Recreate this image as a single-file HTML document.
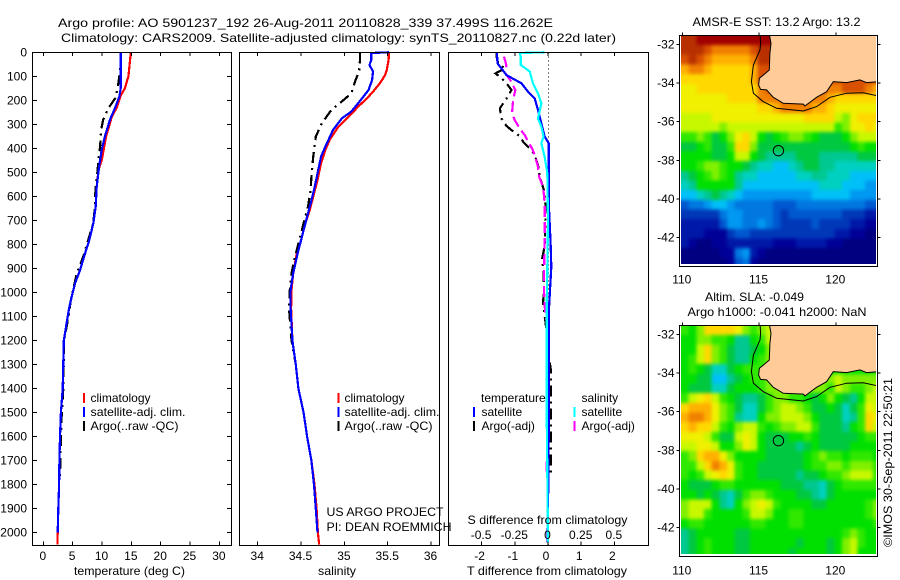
<!DOCTYPE html>
<html>
<head>
<meta charset="utf-8">
<title>Argo profile</title>
<style>
html,body{margin:0;padding:0;background:#fff;}
svg{display:block;}
text{font-family:"Liberation Sans",sans-serif;font-size:12px;fill:#000;}
</style>
</head>
<body>
<svg id="fig" xmlns="http://www.w3.org/2000/svg" width="900" height="580" viewBox="0 0 900 580">
<defs>
<clipPath id="clipSst"><rect x="681" y="36" width="195" height="228"/></clipPath>
<clipPath id="clipSla"><rect x="681" y="326" width="195" height="228"/></clipPath>
<filter id="mapSmooth" filterUnits="userSpaceOnUse" x="650" y="0" width="250" height="580" color-interpolation-filters="sRGB"><feGaussianBlur stdDeviation="1.8"/></filter>
</defs>
<text x="58" y="27" textLength="495" lengthAdjust="spacingAndGlyphs">Argo profile: AO 5901237_192 26-Aug-2011 20110828_339 37.499S 116.262E</text>
<text x="61" y="42" textLength="555" lengthAdjust="spacingAndGlyphs">Climatology: CARS2009. Satellite-adjusted climatology: synTS_20110827.nc (0.22d later)</text>
<g id="marks"></g>
<text x="74" y="575" textLength="111" lengthAdjust="spacingAndGlyphs">temperature (deg C)</text>
<text x="318" y="575" textLength="38" lengthAdjust="spacingAndGlyphs">salinity</text>
<text x="467" y="575" textLength="160" lengthAdjust="spacingAndGlyphs">T difference from climatology</text>
<text x="467.5" y="524" textLength="160" lengthAdjust="spacingAndGlyphs">S difference from climatology</text>
<text x="90.5" y="402">climatology</text>
<text x="90.5" y="416" textLength="95" lengthAdjust="spacingAndGlyphs">satellite-adj. clim.</text>
<text x="90.5" y="430" textLength="88" lengthAdjust="spacingAndGlyphs">Argo(..raw -QC)</text>
<text x="344.5" y="402">climatology</text>
<text x="344.5" y="416" textLength="95" lengthAdjust="spacingAndGlyphs">satellite-adj. clim.</text>
<text x="344.5" y="430" textLength="88" lengthAdjust="spacingAndGlyphs">Argo(..raw -QC)</text>
<text x="326.5" y="516" textLength="117" lengthAdjust="spacingAndGlyphs">US ARGO PROJECT</text>
<text x="326.5" y="531" textLength="125" lengthAdjust="spacingAndGlyphs">PI: DEAN ROEMMICH</text>
<text x="481" y="402">temperature</text>
<text x="481.5" y="416">satellite</text>
<text x="481.5" y="430">Argo(-adj)</text>
<text x="581.5" y="402">salinity</text>
<text x="581.5" y="416">satellite</text>
<text x="581.5" y="430">Argo(-adj)</text>
<text x="692.5" y="26" textLength="168" lengthAdjust="spacingAndGlyphs">AMSR-E SST: 13.2  Argo: 13.2</text>
<text x="705" y="301" textLength="99" lengthAdjust="spacingAndGlyphs">Altim. SLA: -0.049</text>
<text x="687.5" y="316" textLength="179" lengthAdjust="spacingAndGlyphs">Argo h1000: -0.041  h2000: NaN</text>
<text transform="translate(892 547) rotate(-90)" x="0" y="0" textLength="169" lengthAdjust="spacingAndGlyphs">©IMOS 30-Sep-2011 22:50:21</text>
</svg>
<script>
// ---- axis ticks ----
const depthTicks=[0,100,200,300,400,500,600,700,800,900,1000,1100,1200,1300,1400,1500,1600,1700,1800,1900,2000];
const tempTicks=[0,5,10,15,20,25,30];
const salTicks=[34,34.5,35,35.5,36];
const salTickLabels=["34","34.5","35","35.5","36"];
const dTempTicks=[-2,-1,0,1,2];
const dTempLabels=["-2","-1","0","1","2"];
const dSalTicks=[-0.5,-0.25,0,0.25,0.5];
const dSalLabels=["-0.5","-0.25","0","0.25","0.5"];
const lonTicks=[110,115,120];
const latTicks=[-32,-34,-36,-38,-40,-42];

// ---- temperature profiles ----
const tClimDepth=[0,60,100,150,180,230,270,350,450,490,560,643,712,782,838,907,962,1018,1067,1200,1400,1500,1600,1700,1800,1900,2000,2050];
const tClimVal=[14.9,14.66,14.5,13.9,13.18,12.5,11.65,10.7,9.95,9.4,9.09,8.92,8.52,7.84,7.1,6.25,5.4,4.83,4.38,3.5,3.3,3.0,2.85,2.75,2.7,2.55,2.45,2.4];
const tSatDepth=[0,150,185,233,280,350,407,476,560,643,712,782,838,907,962,1018,1067,1200,1400,1500,1600,1700,1800,1900,2000];
const tSatVal=[13.18,13.18,12.95,12.2,11.36,10.5,9.95,9.5,9.09,8.92,8.52,7.84,7.1,6.25,5.4,4.83,4.38,3.5,3.3,3.0,2.85,2.75,2.7,2.55,2.45];
const tArgoDepth=[0,60,100,150,190,233,280,323,393,450,504,560,643,712,851,920,1030,1100,1200,1400,1500,1600,1700,1770];
const tArgoVal=[13.18,13.15,12.95,12.65,12.3,11.07,10.2,9.84,9.67,9.38,9.2,8.9,8.8,8.5,6.8,5.7,4.7,4.3,3.55,3.4,3.15,3.0,2.9,2.85];

// ---- salinity profiles ----
const sClimDepth=[0,32,73,95,129,164,192,226,268,310,365,407,462,532,588,657,712,796,838,920,990,1067,1200,1300,1400,1500,1600,1700,1800,1900,2000,2050];
const sClimVal=[35.515,35.51,35.49,35.47,35.41,35.33,35.26,35.16,35.05,34.93,34.83,34.78,34.73,34.69,34.65,34.6,34.55,34.49,34.45,34.41,34.39,34.385,34.4,34.44,34.47,34.53,34.57,34.62,34.655,34.68,34.695,34.71];
const sSatDepth=[0,3,32,53,80,115,157,212,247,275,323,393,435,504,574,629,699,768,838,920,990,1067,1200,1300,1400,1500,1600,1700,1800,1900,2000];
const sSatVal=[35.515,35.31,35.31,35.29,35.33,35.32,35.28,35.16,35.08,34.97,34.87,34.78,34.73,34.69,34.65,34.61,34.56,34.51,34.46,34.41,34.38,34.38,34.4,34.44,34.47,34.53,34.57,34.62,34.65,34.67,34.69];
const sArgoDepth=[0,32,80,115,171,205,240,296,351,435,518,574,643,712,796,866,920,990,1060,1200,1300,1400,1500];
const sArgoVal=[35.18,35.18,35.17,35.13,35.08,34.97,34.85,34.74,34.67,34.64,34.62,34.61,34.58,34.53,34.47,34.42,34.39,34.37,34.36,34.39,34.44,34.47,34.53];

// ---- differences from climatology ----
const dtSatDepth=[0,46,95,129,164,192,240,296,351,379,435,600,650,740,807,893,990,1067,1200,1600,2040];
const dtSatVal=[-1.54,-1.52,-1.25,-0.8,-0.6,-0.4,-0.3,-0.2,-0.1,0.02,0.02,0.02,0.03,0.06,0.08,0.1,0.06,0.03,0.02,0.02,-0.01];
const dtArgoDepth=[0,18,46,67,88,108,129,157,192,233,275,307,324,349,372,407,428,469,518,574,643,807,863,904,990,1046,1130,1240,1318,1755];
const dtArgoVal=[-1.54,-1.55,-1.5,-1.3,-1.58,-1.4,-1.25,-1.1,-1.25,-1.45,-1.4,-1.25,-1.1,-0.85,-0.75,-0.5,-0.4,-0.3,-0.25,-0.12,-0.07,-0.1,-0.18,-0.14,-0.12,-0.15,-0.07,0,0.08,0.08];
const dsSatDepth=[0,3,18,53,80,129,171,212,275,310,351,379,435,504,700,1067,1500,2040];
const dsSatVal=[-0.025,-0.213,-0.205,-0.205,-0.138,-0.113,-0.075,-0.05,-0.075,-0.05,-0.033,-0.05,-0.025,-0.005,0,-0.01,-0.01,0];
const dsArgoDepth=[18,53,88,122,157,199,254,282,317,345,372,400,428,476,518,560,629,782,921,990,1060,1116,1240,1352,1450,1745];
const dsArgoVal=[-0.331,-0.314,-0.321,-0.276,-0.246,-0.263,-0.271,-0.251,-0.213,-0.175,-0.15,-0.12,-0.1,-0.075,-0.067,-0.037,-0.025,-0.025,-0.03,-0.03,-0.025,-0.012,0,0.008,0.008,-0.012];

// ---- maps: one character per 0.5 degree cell, index into mapPalette ----
const mapLevels="0123456789abcdefghijkl";
const mapPalette=["#000080","#000098","#0018a8","#0038b8","#0058d0","#0078e0","#0098f0","#00c0f8","#00d0c0","#00c890","#00c840","#00e000","#30e800","#80f000","#c8f800","#f0f000","#ffd800","#ffb000","#f08000","#d85000","#b83000","#a00000"];
const sstRows=[
"kklllllllllljjjjjjjjjjjjjj",
"kkkjiiiiijkkjjjjjjjjjjjjjj",
"jkjihhhhhikkjjjjjjjjjjjjjj",
"hiihggggghjjjjjjjjjjjjjjjj",
"ggggggggghjjjjjjjjjjjjjjjj",
"ffggggggggijjjjjjjjiijjjih",
"ffffffggggiiijjjiiihgggggg",
"ffffffffffgghiiiihhgffffff",
"eeeeffffffffffffggggedfggg",
"eeeeedeeeeeeeeeeeeeecdffgf",
"ccdcabdfgebabcddcbaaabdeee",
"aabcaacggdaaaaaaaaaaaabcbb",
"bbbbaabeeba9999aaa99999aaa",
"bbcddcbba9887789aa99888888",
"9abcdcb9887777788998887777",
"89bbbbb9777777777788877766",
"7789a987666666666777776666",
"45567765555544455555555544",
"33333566555543444444433322",
"22222466556543333433332211",
"22211134433333333333221100",
"21001122222211122221100000",
"00000115621000000000000000",
"00000014510000000000000000"
];
const slaRows=[
"cbdggggfdcdebbbbbbbbbbbbbb",
"bbddccb99bcebbbbbbbbbbbbbb",
"bbegdca99abdbbbbbbbbbbbbbb",
"bcegdca99bcdbbbbbbbbbbbbbb",
"bcba88abcccdbbbbbbbbbbbbbb",
"bbaa779abccdddddddddeddddd",
"baaa88abbbcddddddddcedccde",
"cefgecba99acddccbabdba9bee",
"ghhhfdca88acdeedcaaba8acfe",
"hiihfdc988bddeeedbaaa89cgf",
"ghggecbdeecbcddeecaaa9bcge",
"fffecaaefebaaabbcbaaaaabcc",
"eeffebbdfebaaaa9abaaaabbbb",
"cdghhfdbbbbaaaaabcdccbcccb",
"ccegihfcbbaaaaaabccddcdddc",
"cbcefgfcbbaaaaa9aabccdeeec",
"baaabccbbbbbbaaa998abccccc",
"bbaba98acddcbbbaa98abbbbbb",
"deeeb98bdefecbbbbaabbbbbcd",
"deecbbbbceedbbccbbbbbbbbcd",
"bccbbbbbbccbbbccbbbbbbbbbc",
"9abbbbbaabbbbbbbbbbbbcdcbb",
"9abcbbbaabbbbbbabbbabdecbb",
"9abcbbbaabbbbbabbbbabdebbb"
];
const coastLon=[115.65,115.78,115.71,115.67,115.28,115.02,114.97,115.10,115.49,115.93,116.58,117.88,117.99,118.75,119.40,119.84,120.71,121.57,122.0,122.9];
const coastLat=[-31.4,-31.95,-32.47,-33.33,-33.59,-33.76,-34.10,-34.33,-34.36,-34.74,-35.05,-35.09,-35.19,-34.74,-34.45,-33.93,-33.98,-33.84,-33.98,-33.93];
const shelfLon=[115.06,115.10,115.06,114.63,114.50,114.63,115.28,116.15,117.88,118.75,119.62,120.71,121.79,122.9];
const shelfLat=[-31.4,-31.95,-32.29,-33.07,-33.93,-34.53,-34.97,-35.31,-35.45,-35.22,-34.74,-34.53,-34.5,-34.7];
const floatLon=116.262;
const floatLat=-37.499;

// ---- axis functions ----
const yDepth=d=>52.3+d*0.2402;
const xTemp=v=>43.3+v*5.87;
const xSal=v=>257.7+(v-34)*86.67;
const xDT=v=>548+v*33.2;
const xDS=v=>548+v*132.8;
const xLon=v=>682.3+(v-110)*15.35;
const yLatSst=v=>44.3+(-32-v)*19.34;
const yLatSla=v=>334.3+(-32-v)*19.34;

const NS="http://www.w3.org/2000/svg";
const root=document.getElementById("marks");
function make(tag,attrs,parent){
  const e=document.createElementNS(NS,tag);
  for(const k in attrs){e.setAttribute(k,attrs[k]);}
  (parent||root).appendChild(e);
  return e;
}
function tick(x1,y1,x2,y2){
  const e=make("line",{x1:x1,y1:y1,x2:x2,y2:y2,stroke:"#000","stroke-width":1,"shape-rendering":"crispEdges"});
  
  
}
function label(x,y,str,anchor){
  const e=make("text",{x:x,y:y,"text-anchor":anchor||"middle"});
  e.textContent=str;
  
  
}
function frame(x,y,w,h,name){
  const e=make("rect",{x:x,y:y,width:w,height:h,fill:"none",stroke:"#000","stroke-width":1,"shape-rendering":"crispEdges"});
  
  
}
function series(xf,depths,vals,color,width,dash,name){
  const pts=depths.map((d,i)=>xf(vals[i]).toFixed(1)+","+yDepth(d).toFixed(1)).join(" ");
  const attrs={points:pts,fill:"none",stroke:color,"stroke-width":width,"shape-rendering":"crispEdges"};
  if(dash){attrs["stroke-dasharray"]=dash;}
  const e=make("polyline",attrs);
  
  
}
function legendBar(x,y,color,name){
  const e=make("rect",{x:x,y:y,width:2,height:10,fill:color,"shape-rendering":"crispEdges"});
  
  
}

// ---- profile panels ----
const P_TOP=52.5,P_BOT=545.5,P_H=493;
const LINE_W=2.2;
const DASH_ARGO="11,5,2,5";
const DASH_S="11,5";

series(xTemp,tClimDepth,tClimVal,"#ff0000",LINE_W,null,"temperature-climatology-line");
series(xTemp,tArgoDepth,tArgoVal,"#000",LINE_W,DASH_ARGO,"temperature-argo-line");
series(xTemp,tSatDepth,tSatVal,"#0000ff",LINE_W,null,"temperature-satellite-line");

series(xSal,sClimDepth,sClimVal,"#ff0000",LINE_W,null,"salinity-climatology-line");
series(xSal,sArgoDepth,sArgoVal,"#000",LINE_W,DASH_ARGO,"salinity-argo-line");
series(xSal,sSatDepth,sSatVal,"#0000ff",LINE_W,null,"salinity-satellite-line");

const zero=make("line",{x1:xDT(0)+0.5,y1:P_TOP,x2:xDT(0)+0.5,y2:P_BOT,stroke:"#000","stroke-width":1,"stroke-dasharray":"1,3","shape-rendering":"crispEdges"});


series(xDT,dtArgoDepth,dtArgoVal,"#000",LINE_W,DASH_ARGO,"t-difference-argo-line");
series(xDS,dsArgoDepth,dsArgoVal,"#ff00ff",LINE_W,DASH_S,"s-difference-argo-line");
series(xDT,dtSatDepth,dtSatVal,"#0000ff",LINE_W,null,"t-difference-satellite-line");
series(xDS,dsSatDepth,dsSatVal,"#00ffff",LINE_W,null,"s-difference-satellite-line");

frame(32.5,P_TOP,199,P_H,"temperature-panel-frame");
frame(239.5,P_TOP,200,P_H,"salinity-panel-frame");
frame(448.5,P_TOP,200,P_H,"difference-panel-frame");

depthTicks.forEach(d=>{
  const y=yDepth(d);
  tick(32.5,y,37,y);
  tick(227,y,231.5,y);
  label(27,y+4,String(d),"end");
});
tempTicks.forEach(v=>{
  const x=xTemp(v);
  tick(x,P_TOP,x,P_TOP+3.5);
  tick(x,P_BOT,x,P_BOT-4);
  label(x-0.5,560,String(v));
});
salTicks.forEach((v,i)=>{
  const x=xSal(v);
  tick(x,P_TOP,x,P_TOP+3.5);
  tick(x,P_BOT,x,P_BOT-4);
  label(x-0.5,560,salTickLabels[i]);
});
dTempTicks.forEach((v,i)=>{
  const x=xDT(v);
  tick(x,P_TOP,x,P_TOP+3.5);
  tick(x,P_BOT,x,P_BOT-4);
  label(x-2,560,dTempLabels[i]);
});
dSalTicks.forEach((v,i)=>{
  label(xDS(v)-0.5,539,dSalLabels[i]);
});

legendBar(83,393,"#ff0000","legend-swatch-temp-climatology");
legendBar(83,407,"#0000ff","legend-swatch-temp-satellite");
legendBar(83,421,"#000","legend-swatch-temp-argo");
legendBar(337.5,393,"#ff0000","legend-swatch-sal-climatology");
legendBar(337.5,407,"#0000ff","legend-swatch-sal-satellite");
legendBar(337.5,421,"#000","legend-swatch-sal-argo");
legendBar(473,407,"#0000ff","legend-swatch-diff-t-satellite");
legendBar(473,421,"#000","legend-swatch-diff-t-argo");
legendBar(573.5,407,"#00ffff","legend-swatch-diff-s-satellite");
legendBar(573.5,421,"#ff00ff","legend-swatch-diff-s-argo");

// ---- maps ----
function drawMap(rows,yLat,clipId,frameTop,frameH,xLabelY,prefix){
  const g=make("g",{"clip-path":"url(#"+clipId+")"});
  
  
  const cells=make("g",{filter:"url(#mapSmooth)"},g);
  
  
  rows.forEach((row,r)=>{
    for(let c=0;c<row.length;c++){
      const idx=mapLevels.indexOf(row[c]);
      let x0=xLon(109.91+c*0.5), x1=xLon(109.91+(c+1)*0.5);
      let y0=yLat(-31.54-r*0.5), y1=yLat(-31.54-(r+1)*0.5);
      if(c===0){x0-=12;}
      if(c===row.length-1){x1+=12;}
      if(r===0){y0-=12;}
      if(r===rows.length-1){y1+=12;}
      const cell=make("rect",{x:x0,y:y0,width:x1-x0+0.6,height:y1-y0+0.6,fill:mapPalette[idx],"shape-rendering":"crispEdges"},cells);
      
      
    }
  });
  const landPts=coastLon.map((lo,i)=>xLon(lo).toFixed(1)+","+yLat(coastLat[i]).toFixed(1));
  landPts.push(xLon(123).toFixed(1)+","+yLat(-31).toFixed(1));
  landPts.push(xLon(115.65).toFixed(1)+","+yLat(-31).toFixed(1));
  const land=make("polygon",{points:landPts.join(" "),fill:"#ffcc99",stroke:"#000","stroke-width":1},g);
  
  
  const shelf=make("polyline",{points:shelfLon.map((lo,i)=>xLon(lo).toFixed(1)+","+yLat(shelfLat[i]).toFixed(1)).join(" "),fill:"none",stroke:"#000","stroke-width":1},g);
  
  
  frame(679.5,frameTop,198,frameH,prefix+"-map-frame");
  lonTicks.forEach(v=>{
    const x=xLon(v);
    tick(x,frameTop,x,frameTop-3);
    label(x-0.5,xLabelY,String(v));
  });
  latTicks.forEach(v=>{
    const y=yLat(v);
    tick(679.5,y,676.5,y);
    tick(877.5,y,880.5,y);
    label(674.5,y+4,String(v),"end");
  });
  const m=make("circle",{cx:xLon(floatLon),cy:yLat(floatLat),r:5.2,fill:"none",stroke:"#000","stroke-width":1});
  
  
}
drawMap(sstRows,yLatSst,"clipSst",35.5,231,283.5,"sst");
drawMap(slaRows,yLatSla,"clipSla",325.5,231,574.5,"sla");
</script>
</body>
</html>
